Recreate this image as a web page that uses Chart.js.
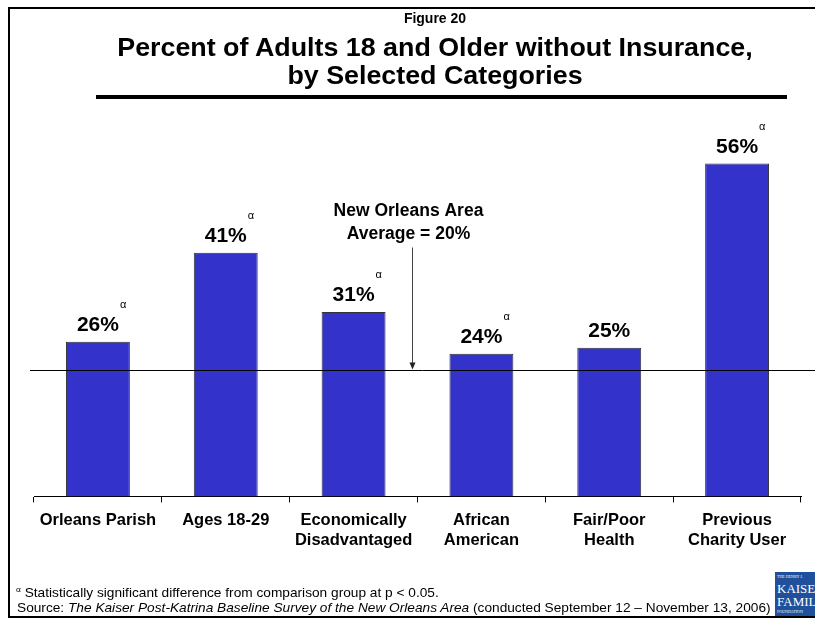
<!DOCTYPE html>
<html>
<head>
<meta charset="utf-8">
<script src="https://cdn.jsdelivr.net/npm/chart.js@4/dist/chart.umd.min.js"></script>
<style>
  html, body { margin: 0; padding: 0; background: #fff; }
  body { width: 815px; height: 618px; position: relative; overflow: hidden;
         font-family: "Liberation Sans", Arial, sans-serif; color: #000; }
  #frame { position: absolute; left: 8px; top: 7px; width: 900px; height: 607px; border: 2px solid #000; }
  canvas { position: absolute; left: 0; top: 0; }
  .t { position: absolute; white-space: nowrap; }
  #fig { left: 60px; width: 750px; top: 10px; text-align: center; font-weight: bold; font-size: 14px; }
  #title { left: 60px; width: 750px; top: 33px; text-align: center; font-weight: bold; font-size: 25px; line-height: 28px;
           transform: scaleX(1.073); transform-origin: 375px 0; }
  #rule { position: absolute; left: 96px; top: 95px; width: 691px; height: 4px; background: #000; }
  #note { left: 16px; top: 585px; font-size: 13px; transform: scaleX(1.053); transform-origin: 0 0; }
  #src { left: 17px; top: 600px; font-size: 13px; transform: scaleX(1.053); transform-origin: 0 0; }
  #logo { position: absolute; left: 775px; top: 572px; width: 40px; height: 44px; background: #20509c; overflow: hidden;
          color: #fff; font-family: "Liberation Serif", serif; }
  #logo div { position: absolute; left: 2px; white-space: nowrap; }
</style>
</head>
<body>
<div id="frame"></div>
<canvas id="chart" width="815" height="618"></canvas>
<div class="t" id="fig">Figure 20</div>
<div class="t" id="title">Percent of Adults 18 and Older without Insurance,<br>by Selected Categories</div>
<div id="rule"></div>
<div class="t" id="note"><span style="font-size:8px;vertical-align:top">α</span> Statistically significant difference from comparison group at p &lt; 0.05.</div>
<div class="t" id="src">Source: <i>The Kaiser Post-Katrina Baseline Survey of the New Orleans Area</i> (conducted September 12 – November 13, 2006)</div>
<div id="logo">
  <div style="top:2px;font-size:4px">THE HENRY J.</div>
  <div style="top:9px;font-size:13px">KAISER</div>
  <div style="top:22px;font-size:13px">FAMILY</div>
  <div style="top:37px;font-size:4px">FOUNDATION</div>
</div>
<script>
const categories = [['Orleans Parish'], ['Ages 18-29'], ['Economically', 'Disadvantaged'],
  ['African', 'American'], ['Fair/Poor', 'Health'], ['Previous', 'Charity User']];
const percentUninsured = [26, 41, 31, 24, 25, 56];
const significant = [true, true, true, true, false, true];
const areaAverage = 20;
// the reference line sits slightly above 20 on the bar scale in the source picture
const averageLineLevel = 21.3;

const FONT = '"Liberation Sans", Arial, sans-serif';

const annotate = {
  id: 'annotate',
  afterDatasetsDraw(chart) {
    const { ctx, scales: { y } } = chart;
    const bars = chart.getDatasetMeta(0).data;
    ctx.save();

    // average line across the plot
    const ly = Math.round(y.getPixelForValue(averageLineLevel)) + 0.5;
    ctx.strokeStyle = '#000';
    ctx.lineWidth = 1;
    ctx.beginPath();
    ctx.moveTo(30, ly);
    ctx.lineTo(chart.width, ly);
    ctx.stroke();

    // value labels with significance marks
    ctx.fillStyle = '#000';
    bars.forEach((bar, i) => {
      const txt = percentUninsured[i] + '%';
      ctx.font = 'bold 21px ' + FONT;
      ctx.textAlign = 'center';
      ctx.textBaseline = 'alphabetic';
      ctx.fillText(txt, bar.x, bar.y - 11);
      if (significant[i]) {
        const w = ctx.measureText(txt).width;
        ctx.font = '11px ' + FONT;
        ctx.textAlign = 'left';
        ctx.fillText('α', bar.x + w / 2 + 1, bar.y - 34);
      }
    });

    // average callout with arrow
    const ax = Math.round((bars[2].x + bars[3].x) / 2 - 6) + 0.5;
    ctx.font = 'bold 17.5px ' + FONT;
    ctx.textAlign = 'center';
    ctx.fillText('New Orleans Area', ax - 4, ly - 155);
    ctx.fillText('Average = ' + areaAverage + '%', ax - 4, ly - 132);
    ctx.strokeStyle = '#444';
    ctx.beginPath();
    ctx.moveTo(ax, ly - 123);
    ctx.lineTo(ax, ly - 6);
    ctx.stroke();
    ctx.fillStyle = '#222';
    ctx.beginPath();
    ctx.moveTo(ax - 3, ly - 8);
    ctx.lineTo(ax + 3, ly - 8);
    ctx.lineTo(ax, ly - 1);
    ctx.closePath();
    ctx.fill();
    ctx.restore();
  }
};

new Chart(document.getElementById('chart'), {
  type: 'bar',
  data: {
    labels: categories,
    datasets: [{
      data: percentUninsured,
      backgroundColor: '#3333cc',
      borderColor: '#333',
      borderWidth: 1,
      barPercentage: 0.5,
      categoryPercentage: 1.0
    }]
  },
  options: {
    responsive: false,
    animation: false,
    layout: { padding: { left: 34, right: 14, top: 110, bottom: 60 } },
    plugins: { legend: { display: false }, tooltip: { enabled: false } },
    scales: {
      y: { display: false, min: 0, max: 65 },
      x: {
        grid: { offset: true, drawOnChartArea: false, drawTicks: true, tickLength: 6, color: '#000' },
        border: { color: '#000' },
        ticks: { color: '#000', padding: 8, font: { family: FONT, weight: 'bold', size: 16.5 }, maxRotation: 0 }
      }
    }
  },
  plugins: [annotate]
});
</script>
</body>
</html>
